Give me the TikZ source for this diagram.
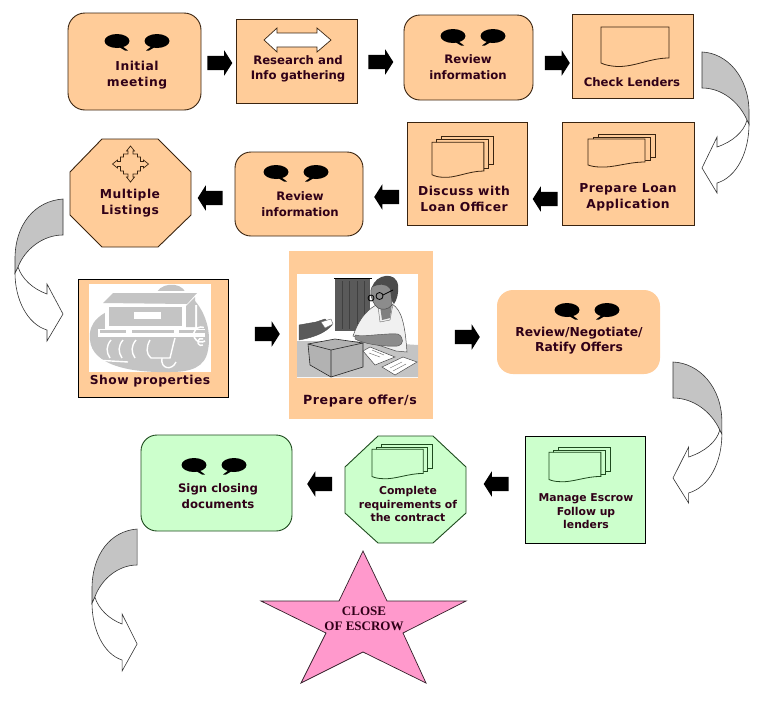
\documentclass[tikz,border=0pt]{standalone}
\usepackage{fontspec}
\setmainfont{DejaVu Sans}
\newfontfamily\starfont{Liberation Serif}
\usetikzlibrary{shapes.arrows}
\definecolor{peach}{HTML}{FFCC99}
\definecolor{mint}{HTML}{CCFFCC}
\definecolor{starpink}{HTML}{FF99CC}
\definecolor{ink}{HTML}{300018}
\definecolor{lnbrown}{HTML}{3A2410}
\definecolor{lngreen}{HTML}{1E4A1E}
\definecolor{artgray}{HTML}{C4C4C4}
\definecolor{artdark}{HTML}{5A5A5A}
\tikzset{
 x=1pt,y=-1pt,
 lbl/.style={font=\bfseries\fontsize{11.7}{15.5}\selectfont,text=ink,align=center,inner sep=0pt},
 lblwide/.style={font=\bfseries\fontsize{12.3}{15.8}\selectfont\addfontfeature{LetterSpace=4},text=ink,align=center,inner sep=0pt},
 lblsm/.style={font=\bfseries\fontsize{10.8}{13.6}\selectfont,text=ink,align=center,inner sep=0pt},
 blockR/.style={single arrow,fill=black,draw=none,inner sep=0pt,text height=14pt,text depth=0pt,text width=0pt,minimum height=25pt,minimum width=25pt,single arrow head extend=5.5pt,single arrow tip angle=115},
 blockL/.style={blockR,shape border rotate=180},
 iconline/.style={line width=.8pt,draw=lnbrown},
 curvegray/.style={fill=artgray,draw=black!80,line width=.6pt},
 curvewhite/.style={fill=white,draw=black!80,line width=.6pt}
}
\newcommand{\talk}[2]{\begin{scope}[shift={(#1,#2)}]
 \fill[black] (-20,0) ellipse[x radius=12.5pt,y radius=7pt];
 \fill[black] (-15,5) -- (-9,9.5) -- (-12,9.5) -- (-18,6) -- cycle;
 \fill[black] (20,0) ellipse[x radius=12.5pt,y radius=7pt];
 \fill[black] (15,5) -- (9,9.5) -- (12,9.5) -- (18,6) -- cycle;
\end{scope}}
\newcommand{\stackdoc}[6]{\begin{scope}[shift={(#1,#2)},xscale=#3,yscale=#4]
 \foreach \dx/\dy in {10/0,5/3}{
  \draw[line width=.8pt,draw=#5,fill=#6] (\dx,\dy) rectangle (\dx+57,\dy+23);}
 \draw[line width=.8pt,draw=#5,fill=#6] (0,5) -- (57,5) -- (57,28) .. controls (40,28) and (25,34) .. (12,33) .. controls (7,33) and (3,32) .. (0,31) -- cycle;
\end{scope}}
\newcommand{\curvearrowR}[4]{\begin{scope}[shift={(#1,#2)},xscale=#3,yscale=#4]
 \path[curvewhite] (45,68) -- (47,72) .. controls (47,100) and (35,125) .. (15,131) -- (15,141) -- (0,116) -- (15,85) -- (15,95) .. controls (30,90) and (42,80) .. (45,68) -- cycle;
 \path[curvegray] (0,0) .. controls (25,1) and (47,25) .. (47,60) -- (47,72) -- (45,68) .. controls (37,50) and (20,36) .. (0,36) -- cycle;
\end{scope}}
\newcommand{\curvearrowL}[4]{\begin{scope}[shift={(#1,#2)},xscale=#3,yscale=#4]
 \path[curvewhite] (3,68) -- (0,74) .. controls (0,100) and (12,125) .. (32,131) -- (32,142) -- (48,115) -- (32,85) -- (32,95) .. controls (18,90) and (7,80) .. (3,68) -- cycle;
 \path[curvegray] (48,0) .. controls (20,2) and (0,25) .. (0,60) -- (0,74) -- (3,68) .. controls (10,50) and (28,36) .. (48,36) -- cycle;
\end{scope}}
\begin{document}
\begin{tikzpicture}
\useasboundingbox (0,0) rectangle (765,718);
\fill[white] (0,0) rectangle (765,718);

%% row 1
\draw[draw=lnbrown,line width=.9pt,fill=peach,rounded corners=17pt] (68,13) rectangle (201,110);
\draw[draw=lnbrown,line width=.9pt,fill=peach] (236,19) rectangle (357,103);
\draw[draw=lnbrown,line width=.9pt,fill=peach,rounded corners=16pt] (404,15) rectangle (533,100);
\draw[draw=lnbrown,line width=.9pt,fill=peach] (572,14) rectangle (693,98);
%% row 2
\draw[draw=lnbrown,line width=.9pt,fill=peach] (562,122) rectangle (694,225);
\draw[draw=lnbrown,line width=.9pt,fill=peach] (407,122) rectangle (527,225);
\draw[draw=lnbrown,line width=.9pt,fill=peach,rounded corners=16pt] (235,152) rectangle (363,236);
\draw[draw=lnbrown,line width=.9pt,fill=peach] (102,139) -- (158,139) -- (191,172) -- (191,215) -- (158,247) -- (102,247) -- (70,215) -- (70,172) -- cycle;
%% row 3
\draw[draw=black,line width=.9pt,fill=peach] (78,279) rectangle (228,397);
\fill[peach] (289,251) rectangle (433,419);
\fill[peach,rounded corners=16pt] (497,290) rectangle (660,374);
%% row 4
\draw[draw=black,line width=.9pt,fill=mint] (525,436) rectangle (645,543);
\draw[draw=lngreen,line width=.9pt,fill=mint] (378,436) -- (433,436) -- (466,467) -- (466,513) -- (433,543) -- (378,543) -- (345,513) -- (345,467) -- cycle;
\draw[draw=lngreen,line width=.9pt,fill=mint,rounded corners=16pt] (141,435) rectangle (292,531);
%% star
\draw[draw=black!80!starpink,line width=.7pt,fill=starpink] (363,551) -- (387,601) -- (466,601) -- (403,633) -- (426,683) -- (363,652) -- (301,683) -- (326,633) -- (261,601) -- (339,601) -- cycle;

%% labels
\node[lblwide] (initial) at (137,75.5) {Initial\\meeting};
\node[lbl] (research) at (298,69) {Research and\\Info gathering};
\node[lbl] (review1) at (468,67) {Review\\information};
\node[lbl] (check) at (632,82) {Check Lenders};
\node[lblwide] (preploan) at (628,197.5) {Prepare Loan\\Application};
\node[lblwide] (discuss) at (464,199) {Discuss with\\Loan Officer};
\node[lbl] (review2) at (300,204) {Review\\information};
\node[lblwide] (multiple) at (130,203.5) {Multiple\\Listings};
\node[lblwide] (show) at (150,381) {Show properties};
\node[lblwide,font=\bfseries\fontsize{12.6}{15.8}\selectfont\addfontfeature{LetterSpace=5}] (offer) at (360,401) {Prepare offer/s};
\node[lbl,font=\bfseries\fontsize{12.3}{15}\selectfont] (negotiate) at (579,340.5) {Review/Negotiate/\\Ratify Offers};
\node[lblsm] (escrow) at (586,511.5) {Manage Escrow\\Follow up\\lenders};
\node[lblsm] (complete) at (408,504) {Complete\\requirements of\\the contract};
\node[lbl] (sign) at (218,496) {Sign closing\\documents};
\node[font=\starfont\bfseries\fontsize{13}{15.5}\selectfont,text=ink,align=center,inner sep=0pt] (close) at (364,618.5) {CLOSE\\[-.5pt]OF ESCROW};

%% block arrows
\node[blockR] (a1) at (217.5,63) {};
\node[blockR] (a2) at (378.5,62) {};
\node[blockR] (a3) at (555,63) {};
\node[blockL] (a4) at (547.5,199) {};
\node[blockL] (a5) at (389,197) {};
\node[blockL] (a6) at (212.5,198) {};
\node[blockR] (a7) at (265,334) {};
\node[blockR] (a8) at (465,337) {};
\node[blockL] (a9) at (498.5,484) {};
\node[blockL] (a10) at (322,484) {};

%% curved arrows
\curvearrowR{702}{52}{1}{1}
\curvearrowL{15}{199}{1}{1}
\curvearrowR{673}{362}{1.04}{1}
\curvearrowL{92}{529}{.94}{1}

%% talk bubbles
\talk{137}{41}
\talk{473}{36}
\talk{296}{172}
\talk{587}{310}
\talk{214}{465}

%% double arrow on Research
\draw[line width=.7pt,draw=lnbrown,fill=white] (264,40) -- (277,28) -- (277,33) -- (317,33) -- (317,28) -- (331,40) -- (317,52) -- (317,47) -- (277,47) -- (277,52) -- cycle;

%% document on Check Lenders
\draw[iconline,fill=peach] (601,27) -- (669,27) -- (669,58) .. controls (650,58) and (635,67) .. (617,66.5) .. controls (610,66) and (605,65) .. (601,63) -- cycle;

%% stacks
\stackdoc{588}{134}{1}{1}{lnbrown}{peach}
\stackdoc{432}{136}{.91}{1.25}{lnbrown}{peach}
\stackdoc{549}{447}{.91}{1.05}{lngreen}{mint}
\stackdoc{372}{444}{.9}{1.05}{lngreen}{mint}

%% four-way arrow
\draw[iconline,fill=peach,line width=.7pt,shift={(130.5,164)}]
 (0,-18) -- (4,-13) -- (2.5,-13) -- (2.5,-10) -- (7,-10) -- (7,-7) -- (10,-7) -- (10,-2.5) -- (13,-2.5) -- (13,-4) -- (18,0)
 -- (13,4) -- (13,2.5) -- (10,2.5) -- (10,7) -- (7,7) -- (7,10) -- (2.5,10) -- (2.5,13) -- (4,13) -- (0,18)
 -- (-4,13) -- (-2.5,13) -- (-2.5,10) -- (-7,10) -- (-7,7) -- (-10,7) -- (-10,2.5) -- (-13,2.5) -- (-13,4) -- (-18,0)
 -- (-13,-4) -- (-13,-2.5) -- (-10,-2.5) -- (-10,-7) -- (-7,-7) -- (-7,-10) -- (-2.5,-10) -- (-2.5,-13) -- (-4,-13) -- cycle;

%% house-on-barge art
\fill[white] (89,284) rectangle (211,372);
\fill[artgray] (90,340) .. controls (88,322) and (100,312) .. (125,305) -- (155,296) .. controls (158,283) and (180,280) .. (186,293) .. controls (204,305) and (212,330) .. (208,350) .. controls (205,368) and (190,372) .. (170,372) .. controls (130,373) and (92,365) .. (90,340) -- cycle;
\fill[white] (100,304) -- (112,291) -- (200,291) -- (189,305) -- (197,305) -- (197,329) -- (105,329) -- (105,305) -- cycle;
\fill[artgray] (103,303) -- (113,293) -- (197,293) -- (187,304) -- cycle;
\fill[artgray] (109,307) rectangle (182,326);
\fill[artgray] (186,306) -- (195,297) -- (195,327) -- (186,327) -- cycle;
\fill[white] (134,312) rectangle (161,319);
\fill[white] (98,329) rectangle (205,337);
\fill[artgray] (100,330) rectangle (126,333);
\fill[artgray] (132,330) rectangle (174,333);
\fill[artgray] (179,330) rectangle (205,333);
\foreach \sx in {106,118,131}{
 \draw[white,line width=1.4pt] (\sx+5,340) .. controls (\sx,346) and (\sx,352) .. (\sx+4,358);}
\draw[white,line width=1.4pt] (95,360) -- (128,362);
\draw[white,line width=1.4pt] (150,340) .. controls (146,347) and (146,354) .. (151,358) -- (170,358) .. controls (172,350) and (173,345) .. (175,338);
\draw[white,line width=1.4pt] (162,358) .. controls (160,369) and (172,371) .. (176,362);
\draw[white,line width=1.6pt] (205,341) arc[start angle=-60,end angle=-290,radius=7.5pt];
\draw[white,line width=1.4pt] (203,345) arc[start angle=-60,end angle=-300,radius=3.5pt];

%% clerk art
\fill[white] (297,274) rectangle (418,378);
\fill[artgray] (299,341) -- (354,341) -- (418,345) -- (418,377) -- (297,377) -- (297,341) -- cycle;
\fill[artdark] (335,279) rectangle (370,331);
\draw[black,line width=1pt] (334,278.5) -- (372,278.5);
\foreach \sx in {342,349,357,364}{\draw[black!75,line width=.5pt] (\sx,281) -- (\sx,329);}
% shirt
\fill[black!6,draw=black!70,line width=.5pt] (353,336) .. controls (358,322) and (364,312) .. (376,305) -- (392,304) .. controls (402,310) and (405,325) .. (407,352) -- (396,351) -- (372,343) -- cycle;
\fill[black!50] (380,306) -- (382,320) -- (390,318) -- (392,304) -- cycle;
\draw[black!60,line width=.4pt] (378,306) -- (380,322) -- (390,320) -- (393,304);
% head
\fill[black!45,draw=black!70,line width=.5pt] (371,290) .. controls (372,282) and (384,280) .. (391,286) -- (392,305) .. controls (388,310) and (382,310) .. (378,308) .. controls (374,305) and (370,298) .. (371,290) -- cycle;
\fill[black!70] (372,287) .. controls (376,274) and (396,271) .. (398,285) .. controls (399,292) and (397,300) .. (394,304) .. controls (391,302) and (391,294) .. (390,289) .. controls (386,283) and (378,284) .. (372,287) -- cycle;
\draw[black,line width=.8pt] (371,298) circle[radius=3pt] (379.5,296) circle[radius=3.5pt];
\draw[black,line width=.7pt] (383,295) -- (393,290);
% arm
\fill[black!45,draw=black!70,line width=.4pt] (355,335) .. controls (365,337) and (385,333) .. (398,334) .. controls (405,338) and (403,345) .. (398,346) .. controls (380,347) and (362,343) .. (355,339) -- cycle;
% hand and card
\fill[artdark,draw=black!70,line width=.4pt] (299,325) -- (316,322) -- (325,319) -- (332,325) .. controls (326,332) and (316,337) .. (299,340) -- cycle;
\fill[white,draw=black!60,line width=.4pt] (321,322) -- (331,319) -- (333,324) -- (325,328) -- cycle;
% box
\fill[black!30,draw=black!85,line width=.6pt] (308,344) -- (335,339) -- (363,343) -- (363,367) -- (331,377) -- (310,365) -- cycle;
\draw[black!85,line width=.6pt] (308,344) -- (331,350) -- (363,343) (331,350) -- (331,377);
% papers
\fill[white,draw=black!70,line width=.5pt] (363,351) -- (370,347) -- (395,357) -- (375,365) -- cycle;
\fill[white,draw=black!70,line width=.5pt] (382,367) -- (403,357) -- (417,362) -- (395,375) -- cycle;
\draw[black!60,line width=.4pt] (369,353) -- (380,357) (372,350) -- (384,355) (390,368) -- (402,362) (393,371) -- (406,364);
\end{tikzpicture}
\end{document}
